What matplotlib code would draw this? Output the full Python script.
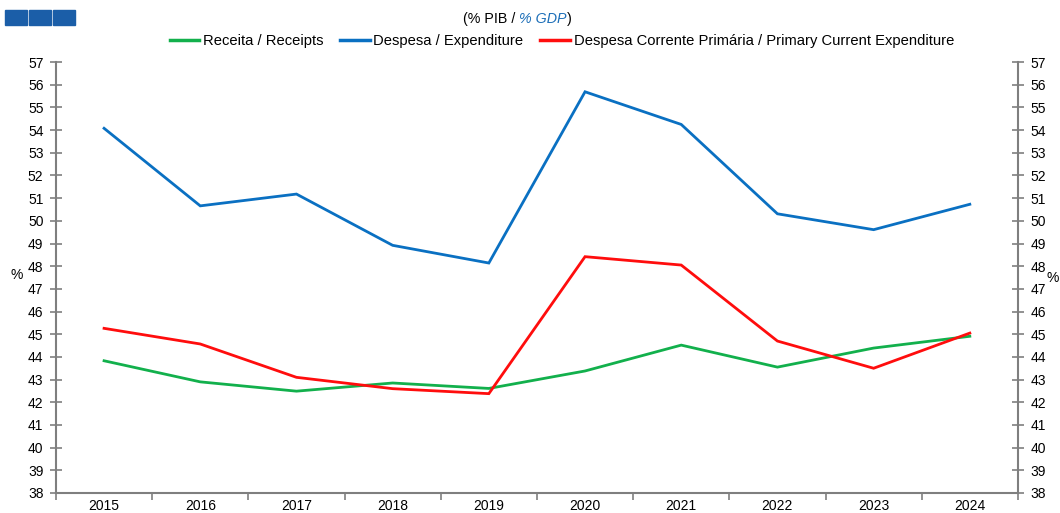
import matplotlib
matplotlib.use("Agg")
import matplotlib.pyplot as plt
import matplotlib.patches as mpatches
from matplotlib.lines import Line2D
import numpy as np

plt.rcParams["font.family"] = ["Liberation Sans", "DejaVu Sans"]

years = ["2015", "2016", "2017", "2018", "2019", "2020", "2021", "2022", "2023", "2024"]
receita = [43.83, 42.90, 42.49, 42.85, 42.61, 43.38, 44.52, 43.55, 44.39, 44.91]
despesa = [54.08, 50.66, 51.18, 48.92, 48.14, 55.69, 54.25, 50.31, 49.61, 50.73]
despesa_corrente = [45.26, 44.57, 43.10, 42.60, 42.38, 48.42, 48.05, 44.70, 43.50, 45.05]

series_labels = [
    "Receita / Receipts",
    "Despesa / Expenditure",
    "Despesa Corrente Primária / Primary Current Expenditure",
]
series_colors = ["#12b04c", "#0a70c2", "#ff0d0d"]
y_ticks = list(range(38, 58))

SPINE = "#7f7f7f"

fig = plt.figure(figsize=(10.6, 5.13), dpi=100)
ax = fig.add_axes([0.0528, 0.039, 0.9075, 0.840])

x = np.arange(len(years))
for vals, col, lab in zip([receita, despesa, despesa_corrente], series_colors, series_labels):
    ax.plot(x, vals, color=col, lw=2.0, label=lab, solid_joinstyle="miter")

ax.set_xlim(-0.5, len(years) - 0.5)
ax.set_ylim(38, 57)
ax.set_yticks(y_ticks)
ax.set_xticks(x)
ax.set_xticklabels(years)
ax.set_xticks(np.arange(len(years) + 1) - 0.5, minor=True)
ax.tick_params(axis="x", which="major", length=0, labelsize=10, pad=4)
ax.tick_params(axis="x", which="minor", length=5, direction="out", color=SPINE, width=1.2)
ax.tick_params(axis="y", direction="inout", length=8, width=1.2, color=SPINE, labelsize=10, pad=5)

for s in ["top", "right"]:
    ax.spines[s].set_visible(False)
for s in ["left", "bottom"]:
    ax.spines[s].set_color(SPINE)
    ax.spines[s].set_linewidth(1.5)

ax2 = ax.twinx()
ax2.set_ylim(38, 57)
ax2.set_yticks(y_ticks)
ax2.tick_params(axis="y", direction="inout", length=8, width=1.2, color=SPINE, labelsize=10, pad=5)
for s in ["top", "left", "bottom"]:
    ax2.spines[s].set_visible(False)
ax2.spines["right"].set_color(SPINE)
ax2.spines["right"].set_linewidth(1.5)

fig.text(0.016, 0.463, "%", fontsize=10, ha="center", va="center")
fig.text(0.993, 0.459, "%", fontsize=10, ha="center", va="center")

# logo blocks in the corner
for i in range(3):
    fig.patches.append(mpatches.Rectangle(
        (5 / 1060 + i * 24 / 1060, 1 - 25 / 513), 22 / 1060, 15 / 513,
        transform=fig.transFigure, color="#1b5ea8", zorder=5))

# subtitle: "(% PIB / % GDP)" with the English part in blue italics
renderer = fig.canvas.get_renderer()
parts = [("(% PIB / ", "black", "normal"), ("% GDP", "#1d6fb8", "italic"), (")", "black", "normal")]
texts = []
for s, c, st in parts:
    t = fig.text(0, 1 - 19 / 513, s, fontsize=10.3, color=c, style=st, va="center")
    texts.append(t)
widths = [t.get_window_extent(renderer).width for t in texts]
xpos = 517 - sum(widths) / 2
for t, w in zip(texts, widths):
    t.set_x(xpos / 1060)
    xpos += w

handles = [Line2D([], [], color=c, lw=2.5) for c in series_colors]
fig.legend(handles, series_labels, loc="center", bbox_to_anchor=(0.530, 1 - 41 / 513),
           ncol=3, frameon=False, fontsize=10.6, handlelength=2.0, handletextpad=0.25,
           columnspacing=1.15)

fig.savefig("out.png", dpi=100)
